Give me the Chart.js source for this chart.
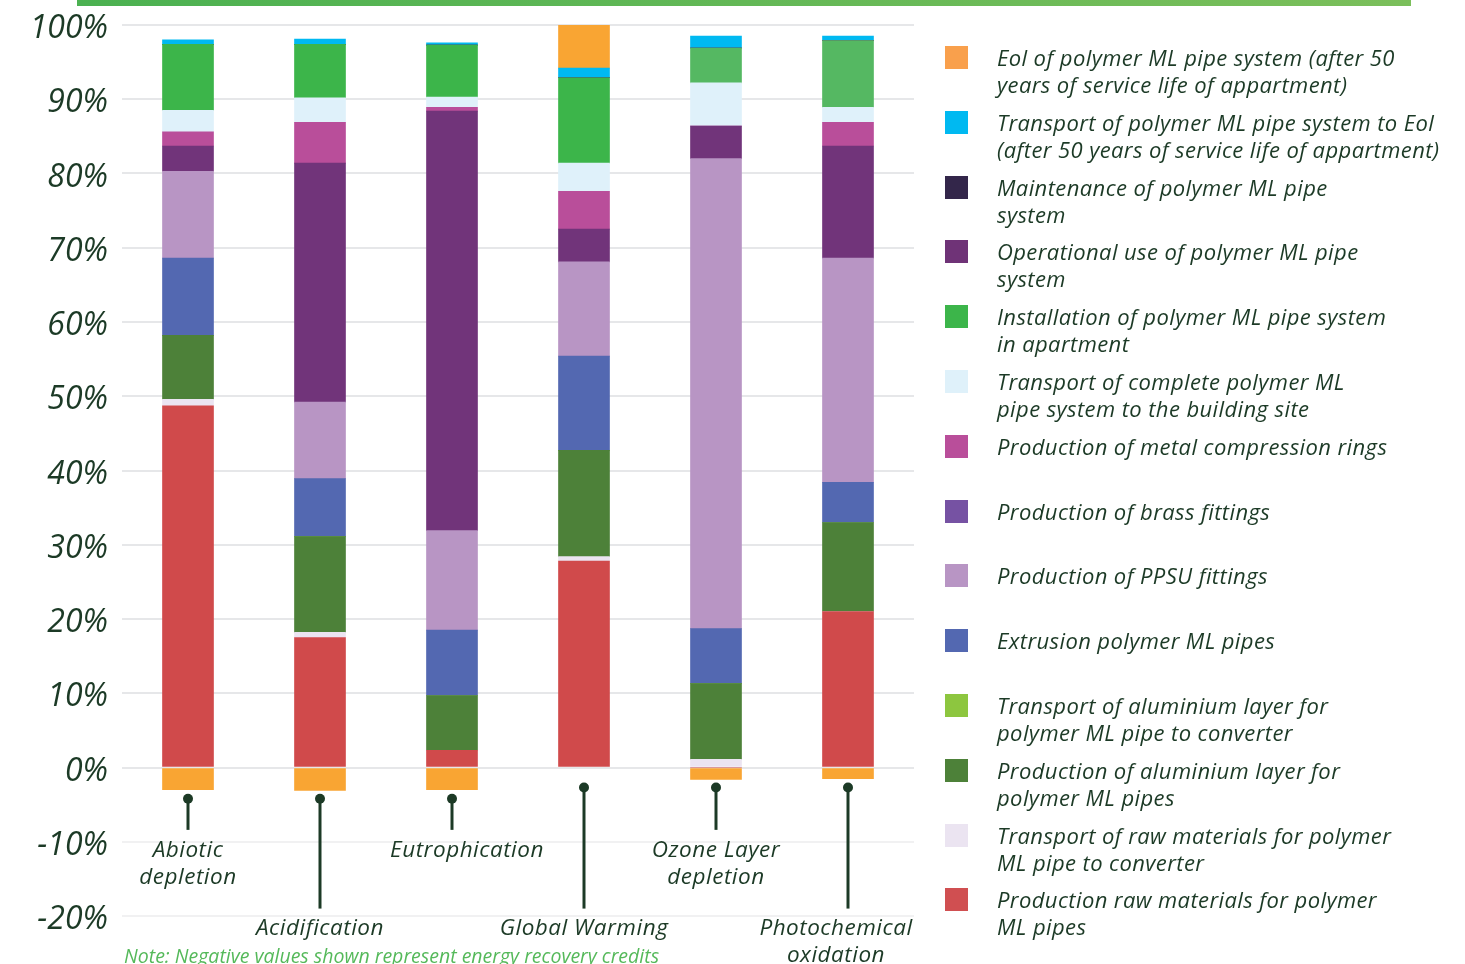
<!DOCTYPE html>
<html>
<head>
<meta charset="utf-8">
<script src="https://cdn.jsdelivr.net/npm/chart.js@4.4.0/dist/chart.umd.min.js"></script>
<style>
  html, body { margin: 0; padding: 0; background: #fff; }
  #wrap { position: relative; width: 1465px; height: 964px; overflow: hidden; }
  #topbar { position: absolute; left: 77px; top: 0; width: 1334px; height: 6px; background: linear-gradient(to right, #4bb151, #7bbf5b); }
  #chart { position: absolute; left: 0; top: 0; }
  #legend { position: absolute; left: 945px; top: 46px; width: 520px; font: italic 500 22px "Open Sans", sans-serif; letter-spacing: 0.4px; color: #1c3a26; }
  .item { position: absolute; left: 0; width: 520px; }
  .swatch { position: absolute; left: 0; top: 0; width: 23px; height: 23px; }
  .text { position: absolute; left: 52px; top: -2px; line-height: 27px; white-space: pre; }
  #note { position: absolute; left: 124px; top: 946px; font: italic 500 19.5px "Open Sans", sans-serif; line-height: 19.5px; color: #55b95a; white-space: nowrap; }
</style>
</head>
<body>
<div id="wrap">
  <div id="topbar"></div>
  <canvas id="chart" width="1465" height="964"></canvas>
  <div id="legend"></div>
  <div id="note">Note: Negative values shown represent energy recovery credits</div>
</div>
<script>
// Categories (impact types)
const categories = ["Abiotic depletion", "Acidification", "Eutrophication", "Global Warming", "Ozone Layer depletion", "Photochemical oxidation"];
const categoryLines = [["Abiotic", "depletion"], ["Acidification"], ["Eutrophication"], ["Global Warming"], ["Ozone Layer", "depletion"], ["Photochemical", "oxidation"]];

// Series values in %, stacked bottom-up
const rawMaterials       = [48.7, 17.5, 2.3, 27.8, 0, 21.0];
const transportRaw       = [0.9, 0.7, 0, 0.6, 1.1, 0];
const aluminiumLayer     = [8.6, 12.9, 7.4, 14.3, 10.2, 12.0];
const transportAluminium = [0, 0, 0, 0, 0, 0];
const extrusion          = [10.4, 7.8, 8.8, 12.7, 7.4, 5.4];
const ppsuFittings       = [11.7, 10.3, 13.4, 12.7, 63.3, 30.2];
const brassFittings      = [3.4, 32.2, 56.5, 4.4, 4.4, 15.1];
const compressionRings   = [1.9, 5.5, 0.5, 5.1, 0, 3.2];
const transportComplete  = [2.9, 3.3, 1.4, 3.8, 5.8, 2.0];
const installation       = [8.9, 7.2, 7.0, 11.5, 4.7, 9.0];
const operationalUse     = [0, 0, 0, 0, 0, 0];
const maintenance        = [0, 0, 0, 0, 0, 0];
const transportEol       = [0.6, 0.7, 0.3, 1.3, 1.6, 0.6];
const endOfLife          = [-3.0, -3.1, -3.0, 5.8, -1.6, -1.5];

// Y axis ticks
const yMin = -20;
const yMax = 100;
const yStep = 10;

// Series labels (legend text, with its line breaks)
const seriesLabels = [
  "Production raw materials for polymer\nML pipes",
  "Transport of raw materials for polymer\nML pipe to converter",
  "Production of aluminium layer for\npolymer ML pipes",
  "Transport of aluminium layer for\npolymer ML pipe to converter",
  "Extrusion polymer ML pipes",
  "Production of PPSU fittings",
  "Production of brass fittings",
  "Production of metal compression rings",
  "Transport of complete polymer ML\npipe system to the building site",
  "Installation of polymer ML pipe system\nin apartment",
  "Operational use of polymer ML pipe\nsystem",
  "Maintenance of polymer ML pipe\nsystem",
  "Transport of polymer ML pipe system to Eol\n(after 50 years of service life of appartment)",
  "Eol of polymer ML pipe system (after 50\nyears of service life of appartment)"
];
const seriesValues = [rawMaterials, transportRaw, aluminiumLayer, transportAluminium, extrusion, ppsuFittings,
  brassFittings, compressionRings, transportComplete, installation, operationalUse, maintenance, transportEol, endOfLife];

// Styles
const barColors = ["#d04a4b", "#ebe4f1", "#4d8139", "#8dc63f", "#5368b1", "#b895c4", "#71347a", "#b94e9a",
  "#dff1fa", ["#3cb54a", "#3cb54a", "#3cb54a", "#3cb54a", "#55b862", "#55b862"], "#6f3377", "#33264a", "#00b9f1", "#f9a533"];
const legendColors = ["#d04f51", "#ebe4f1", "#4d8139", "#8dc63f", "#5368b1", "#b895c4", "#7652a3", "#b94e9a",
  "#dff1fa", "#3cb54a", "#6f3377", "#33264a", "#00b9f1", "#f9a04c"];
const textColor = "#1c3a26";
const fontFamily = "'Open Sans'";

// pin/label layout under each bar, in axis units
const pinLayout = [
  { dot: -4.2, end: -8.4, text: -12.0, dx: 0 },
  { dot: -4.2, end: -19.0, text: -22.5, dx: 0 },
  { dot: -4.2, end: -8.4, text: -12.0, dx: 15 },
  { dot: -2.7, end: -19.0, text: -22.5, dx: 0 },
  { dot: -2.7, end: -8.4, text: -12.0, dx: 0 },
  { dot: -2.7, end: -19.0, text: -22.5, dx: -12 }
];

const datasets = seriesValues.map((values, i) => ({
  label: seriesLabels[i],
  data: values,
  backgroundColor: barColors[i],
  borderWidth: 0,
  barThickness: 51,
  stack: "s"
}));

// Draw pins and category labels below the bars
const categoryPins = {
  id: "categoryPins",
  afterDraw(chart) {
    const { ctx } = chart;
    const x = chart.scales.x;
    const y = chart.scales.y;
    ctx.save();
    ctx.fillStyle = textColor;
    ctx.strokeStyle = textColor;
    ctx.lineWidth = 3;
    ctx.font = "italic 500 22.5px " + fontFamily;
    ctx.letterSpacing = "0.5px";
    ctx.textAlign = "center";
    ctx.textBaseline = "alphabetic";
    categoryLines.forEach((lines, i) => {
      const p = pinLayout[i];
      const cx = x.getPixelForValue(i);
      const dotY = y.getPixelForValue(p.dot);
      ctx.beginPath();
      ctx.moveTo(cx, dotY);
      ctx.lineTo(cx, y.getPixelForValue(p.end));
      ctx.stroke();
      ctx.beginPath();
      ctx.arc(cx, dotY, 5, 0, Math.PI * 2);
      ctx.fill();
      const ty = y.getPixelForValue(p.text);
      lines.forEach((line, j) => ctx.fillText(line, cx + p.dx, ty + j * 27));
    });
    ctx.restore();
  }
};

new Chart(document.getElementById("chart"), {
  type: "bar",
  data: { labels: categories, datasets },
  plugins: [categoryPins],
  options: {
    responsive: false,
    animation: false,
    devicePixelRatio: 1,
    layout: { padding: { left: 0, right: 551, top: 25, bottom: 48 } },
    plugins: { legend: { display: false }, tooltip: { enabled: false } },
    scales: {
      x: { stacked: true, display: false },
      y: {
        stacked: true,
        min: yMin,
        max: yMax,
        afterFit(scale) {
          scale.width = 122;
          scale.paddingTop = 0;
          scale.paddingBottom = 0;
        },
        border: { display: false },
        grid: {
          drawTicks: false,
          lineWidth: 2,
          color: (c) => (c.tick && c.tick.value < 0 ? "#f1f1f2" : "#e6e7e9")
        },
        ticks: {
          stepSize: yStep,
          padding: 14,
          labelOffset: 4,
          color: textColor,
          font: { family: fontFamily, style: "italic", weight: 500, size: 32 },
          callback: (v) => v + "%"
        }
      }
    }
  }
});

// Legend, top-down (reverse of stacking order)
const legend = document.getElementById("legend");
for (let k = 0; k < seriesLabels.length; k++) {
  const i = seriesLabels.length - 1 - k;
  const item = document.createElement("div");
  item.className = "item";
  item.style.top = (k * 64.8) + "px";
  item.innerHTML = '<div class="swatch" style="background:' + legendColors[i] + '"></div><div class="text"></div>';
  item.querySelector(".text").textContent = seriesLabels[i];
  legend.appendChild(item);
}
</script>
</body>
</html>
